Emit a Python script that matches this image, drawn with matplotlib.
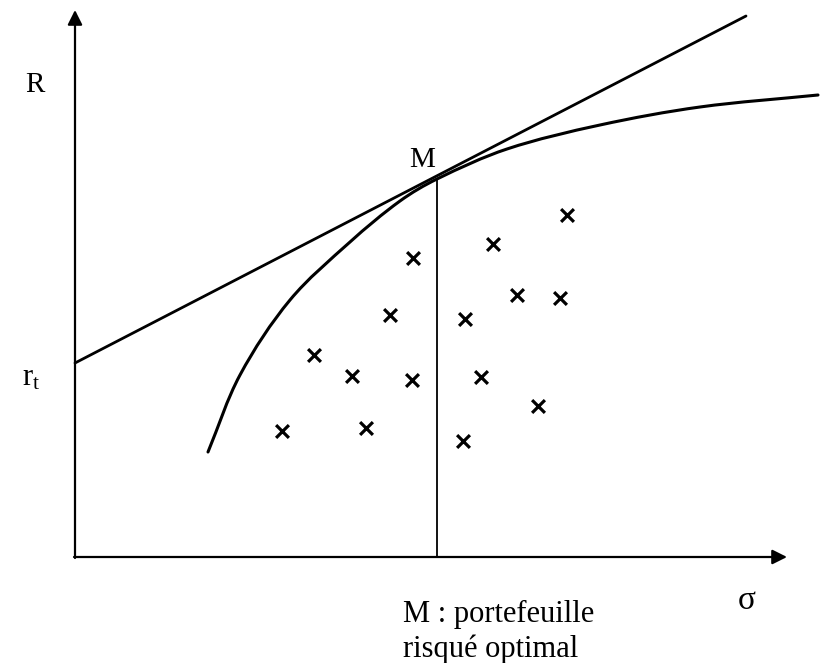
import matplotlib
matplotlib.use("Agg")
import math
import matplotlib.pyplot as plt
from matplotlib.path import Path
from matplotlib.patches import PathPatch

plt.rcParams['font.family'] = ['Liberation Serif', 'DejaVu Serif']
plt.rcParams['mathtext.fontset'] = 'custom'
plt.rcParams['mathtext.rm'] = 'Liberation Serif'
plt.rcParams['mathtext.it'] = 'Liberation Serif'

# Diagram data (sigma, R) in drawing units
cml_sigma = [0, 671]
cml_R = [194, 541]

frontier_sigma = [133, 165, 215, 275, 325, 362, 432, 525, 625, 743]
frontier_R = [105, 182, 257, 315, 356, 378, 408, 432, 450, 462]

M_sigma, M_R = 362, 378

cross_sigma = [315, 239, 277, 337, 207, 291, 390, 406, 463, 388, 338, 418, 492, 442, 485]
cross_R = [242, 202, 181, 177, 126, 129, 238, 180, 151, 116, 299, 313, 342, 262, 259]

sigma_max, R_max = 712, 547

fig = plt.figure(figsize=(8.32, 6.63), dpi=100)
ax = fig.add_axes([0, 0, 1, 1])
ax.set_xlim(-75, 757)
ax.set_ylim(-106, 557)
ax.axis('off')

# axes arrows
ax.annotate('', xy=(0, R_max), xytext=(0, -1),
            arrowprops=dict(arrowstyle='-|>', color='black', lw=1.6,
                            mutation_scale=22, shrinkA=0, shrinkB=0))
ax.annotate('', xy=(sigma_max, 0), xytext=(-1, 0),
            arrowprops=dict(arrowstyle='-|>', color='black', lw=1.6,
                            mutation_scale=22, shrinkA=0, shrinkB=0))

# capital market line
ax.plot(cml_sigma, cml_R, color='black', lw=2.0, solid_capstyle='round')


def smooth_path(xs, ys):
    pts = list(zip(xs, ys))
    n = len(pts)

    def dist(a, b):
        return math.hypot(b[0] - a[0], b[1] - a[1])

    tangents = []
    for i in range(n):
        a = pts[max(i - 1, 0)]
        b = pts[min(i + 1, n - 1)]
        d = dist(a, b)
        tangents.append(((b[0] - a[0]) / d, (b[1] - a[1]) / d))
    verts = [pts[0]]
    codes = [Path.MOVETO]
    for i in range(n - 1):
        p1, p2 = pts[i], pts[i + 1]
        L = dist(p1, p2) / 3
        t1, t2 = tangents[i], tangents[i + 1]
        c1 = (p1[0] + t1[0] * L, p1[1] + t1[1] * L)
        c2 = (p2[0] - t2[0] * L, p2[1] - t2[1] * L)
        verts += [c1, c2, p2]
        codes += [Path.CURVE4] * 3
    return Path(verts, codes)


# efficient frontier
ax.add_patch(PathPatch(smooth_path(frontier_sigma, frontier_R), facecolor='none',
                       edgecolor='black', lw=2.2, capstyle='round'))
# vertical line through M
ax.plot([M_sigma, M_sigma], [0, M_R], color='black', lw=1.3)

# risky assets
ax.scatter(cross_sigma, cross_R, marker='x', s=85, color='black', linewidths=2.3)

# labels
ax.text(-40, 472, 'R', fontsize=21, ha='center', va='center')
ax.text(-53, 172, r'$\mathrm{r_t}$', fontsize=22, ha='left', va='baseline')
ax.text(347, 397, 'M', fontsize=21, ha='center', va='center')
ax.text(672, -44, 'σ', fontsize=24, ha='center', va='center')
ax.text(328, -65, 'M : portefeuille', fontsize=22, ha='left', va='baseline')
ax.text(328, -100, 'risqué optimal', fontsize=22, ha='left', va='baseline')

fig.savefig('out.png', dpi=100, facecolor='white')
